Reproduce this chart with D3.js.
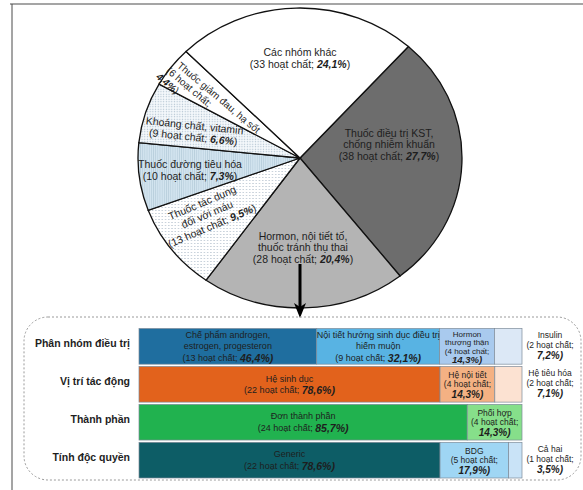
<!DOCTYPE html>
<html>
<head>
<meta charset="utf-8">
<script src="https://cdn.jsdelivr.net/npm/d3@7"></script>
<style>
  body { margin: 0; background: #fff; }
  text { font-family: "Liberation Sans", Arial, sans-serif; fill: #1e1e1e; }
</style>
</head>
<body>
<svg id="chart" width="583" height="490"></svg>
<script>
// nhóm tác dụng dược lý (pie)
var pieNames = [
    ['Thuốc điều trị KST,', 'chống nhiễm khuẩn'],
    ['Hormon, nội tiết tố,', 'thuốc tránh thụ thai'],
    ['Thuốc tác dụng', 'đối với máu'],
    ['Thuốc đường tiêu hóa'],
    ['Khoáng chất, vitamin'],
    ['Thuốc giảm đau, hạ sốt'],
    ['Các nhóm khác']
];
var pieCounts = [38, 28, 13, 10, 9, 6, 33];
var piePct = [27.7, 20.4, 9.5, 7.3, 6.6, 4.4, 24.1];

// nhóm hormon (bars)
var rowLabels = ['Phân nhóm điều trị', 'Vị trí tác động', 'Thành phần', 'Tính độc quyền'];
var row1Names = [['Chế phẩm androgen,', 'estrogen, progesteron'], ['Nội tiết hướng sinh dục điều trị', 'hiếm muộn'], ['Hormon', 'thượng thận'], ['Insulin']];
var row1Counts = [13, 9, 4, 2];
var row1Pct = [46.4, 32.1, 14.3, 7.2];
var row2Names = [['Hệ sinh dục'], ['Hệ nội tiết'], ['Hệ tiêu hóa']];
var row2Counts = [22, 4, 2];
var row2Pct = [78.6, 14.3, 7.1];
var row3Names = [['Đơn thành phần'], ['Phối hợp']];
var row3Counts = [24, 4];
var row3Pct = [85.7, 14.3];
var row4Names = [['Generic'], ['BDG'], ['Cả hai']];
var row4Counts = [22, 5, 1];
var row4Pct = [78.6, 17.9, 3.5];

var vn = d3.formatLocale({decimal: ',', thousands: '.', grouping: [3], currency: ['', '']});
var fmt = vn.format('.1f');

var svg = d3.select('#chart');
var defs = svg.append('defs');

// patterns
function dots(id, bg, dot, step, r) {
    var p = defs.append('pattern').attr('id', id).attr('patternUnits', 'userSpaceOnUse')
        .attr('width', step).attr('height', step);
    p.append('rect').attr('width', step).attr('height', step).attr('fill', bg);
    p.append('circle').attr('cx', step / 2).attr('cy', step / 2).attr('r', r).attr('fill', dot);
}
dots('pMau', '#ffffff', '#9fb0c0', 3, 0.55);
dots('pVit', '#f4f8fb', '#a9bccb', 2.5, 0.6);
var pl = defs.append('pattern').attr('id', 'pTieu').attr('patternUnits', 'userSpaceOnUse')
    .attr('width', 2).attr('height', 3);
pl.append('rect').attr('width', 2).attr('height', 3).attr('fill', '#d3e4ef');
pl.append('rect').attr('width', 0.7).attr('height', 3).attr('fill', '#b9cfdd');

var pieFills = ['#6d6d6d', '#b4b4b4', 'url(#pMau)', 'url(#pTieu)', 'url(#pVit)', '#ffffff', '#ffffff'];

// frame
svg.append('line').attr('x1', 10).attr('x2', 583).attr('y1', 4).attr('y2', 4)
    .attr('stroke', '#a5a5a5').attr('stroke-width', 2);
svg.append('line').attr('x1', 12).attr('x2', 12).attr('y1', 4).attr('y2', 490)
    .attr('stroke', '#4a4a4a').attr('stroke-width', 1);

// pie
var cx = 300, cy = 158, R = 150, sx = 1.08;
var pie = d3.pie().sort(null).value(function (d) { return d; })
    .startAngle(42 * Math.PI / 180).endAngle(42 * Math.PI / 180 + 2 * Math.PI);
var arc = d3.arc().innerRadius(0).outerRadius(R);

var pieG = svg.append('g').attr('transform', 'translate(' + [cx, cy] + ') scale(' + sx + ',1)');
pieG.selectAll('path')
    .data(pie(pieCounts))
    .enter()
    .append('path')
    .attr('d', arc)
    .attr('fill', function (d, i) { return pieFills[i]; })
    .attr('stroke', '#111')
    .attr('stroke-width', 1.3)
    .attr('vector-effect', 'non-scaling-stroke');

// text helper: lines = [[{t, b}]]
function addLines(g, lines, lh, anchor, fs, fsB) {
    var n = lines.length;
    lines.forEach(function (parts, k) {
        var t = g.append('text')
            .attr('text-anchor', anchor)
            .attr('dominant-baseline', 'central')
            .attr('y', (k - (n - 1) / 2) * lh)
            .attr('x', parts.dx || 0)
            .style('font-size', fs + 'px');
        parts.forEach(function (p) {
            var s = t.append('tspan').text(p.t);
            if (p.b) s.style('font-weight', 'bold').style('font-style', 'italic').style('font-size', fsB + 'px');
        });
    });
}

// pie label placement (page coords, rotation, line height, anchor)
var pieLabelPos = [
    {x: 389, y: 144, r: 0, lh: 11.5, a: 'middle', fs: 10.5},
    {x: 303, y: 247, r: 0, lh: 11.5, a: 'middle', fs: 10.5},
    {x: 207, y: 214, r: -23, lh: 12.5, a: 'middle', fs: 10.5},
    {x: 190, y: 170, r: 0, lh: 11.5, a: 'middle', fs: 10.5},
    {x: 194, y: 131, r: 6, lh: 11.5, a: 'middle', fs: 10.5},
    {x: 172, y: 72, r: 40, lh: 11, a: 'start', fs: 10},
    {x: 300, y: 58, r: 0, lh: 12, a: 'middle', fs: 10.5}
];

pieCounts.forEach(function (c, i) {
    var pos = pieLabelPos[i];
    var g = svg.append('g')
        .attr('transform', 'translate(' + [pos.x, pos.y] + ') rotate(' + pos.r + ')');
    var lines = pieNames[i].map(function (s) { return [{t: s}]; });
    if (i === 5) {
        lines.push([{t: '(' + c + ' hoạt chất;'}]);
        lines.push([{t: fmt(piePct[i]) + '%', b: true}, {t: ')'}]);
        lines[1].dx = -5;
        lines[2].dx = -9;
    } else {
        lines.push([{t: '(' + c + ' hoạt chất; '}, {t: fmt(piePct[i]) + '%', b: true}, {t: ')'}]);
    }
    addLines(g, lines, pos.lh, pos.a, pos.fs, pos.fs);
});

// arrow
svg.append('line').attr('x1', cx).attr('x2', cx).attr('y1', 264).attr('y2', 308)
    .attr('stroke', '#000').attr('stroke-width', 3);
svg.append('path').attr('d', 'M' + (cx - 6) + ',303 L' + cx + ',318 L' + (cx + 6) + ',303 L' + cx + ',307 Z')
    .attr('fill', '#000');

// dashed box
svg.append('rect').attr('x', 24).attr('y', 317).attr('width', 557).attr('height', 163)
    .attr('rx', 24).attr('ry', 24)
    .attr('fill', 'none').attr('stroke', '#9a9a9a').attr('stroke-width', 1)
    .attr('stroke-dasharray', '2,2');

// bars
var rows = [
    {names: row1Names, counts: row1Counts, pct: row1Pct, colors: ['#1f6e9f', '#58b3e3', '#a9caee', '#dce8f6']},
    {names: row2Names, counts: row2Counts, pct: row2Pct, colors: ['#e2621c', '#f4b183', '#fce2d2']},
    {names: row3Names, counts: row3Counts, pct: row3Pct, colors: ['#21b24f', '#86df8a']},
    {names: row4Names, counts: row4Counts, pct: row4Pct, colors: ['#0d5d66', '#9fd6f4', '#c9e3f7']}
];

var x = d3.scaleLinear().domain([0, 100]).range([139, 522]);
var y = d3.scaleBand().domain(rowLabels).range([328.5, 478]).paddingInner(0.06);

rows.forEach(function (row, r) {
    var rowG = svg.append('g')
        .attr('class', 'hormon row')
        .attr('transform', 'translate(0,' + y(rowLabels[r]) + ')');
    var bh = y.bandwidth();

    rowG.append('text')
        .attr('x', 130)
        .attr('y', bh / 2 - 3)
        .attr('text-anchor', 'end')
        .attr('dominant-baseline', 'central')
        .style('font-size', '10.5px')
        .style('font-weight', 'bold')
        .text(rowLabels[r]);

    var acc = 0;
    var segs = row.pct.map(function (p, i) {
        var s = {x0: acc, x1: acc + p, i: i};
        acc += p;
        return s;
    });

    rowG.selectAll('rect')
        .data(segs)
        .enter()
        .append('rect')
        .attr('x', function (d) { return x(d.x0); })
        .attr('width', function (d) { return x(d.x1) - x(d.x0); })
        .attr('y', 0)
        .attr('height', bh)
        .attr('fill', function (d) { return row.colors[d.i]; })
        .attr('stroke', '#7d8b99')
        .attr('stroke-width', 0.7);

    segs.forEach(function (d) {
        var w = x(d.x1) - x(d.x0);
        var name = row.names[d.i];
        var cnt = '(' + row.counts[d.i] + ' hoạt chất;';
        var pc = fmt(row.pct[d.i]) + '%)';
        var lines = name.map(function (s) { return [{t: s}]; });
        var g, fs, fsB, lh;
        if (w > 100) {
            lines.push([{t: cnt + ' '}, {t: pc, b: true}]);
            g = rowG.append('g').attr('transform', 'translate(' + [(x(d.x0) + x(d.x1)) / 2, bh / 2] + ')');
            fs = 9; fsB = 10.5; lh = 11.5;
        } else {
            lines.push([{t: cnt}]);
            lines.push([{t: pc, b: true}]);
            if (w > 40) {
                g = rowG.append('g').attr('transform', 'translate(' + [(x(d.x0) + x(d.x1)) / 2, bh / 2] + ')');
                fs = lines.length > 3 ? 8 : 8.5;
                fsB = lines.length > 3 ? 9.5 : 10;
                lh = lines.length > 3 ? 8.5 : 9.5;
            } else {
                g = rowG.append('g').attr('transform', 'translate(' + [550, bh / 2 - 1] + ')');
                fs = 8.5; fsB = 10; lh = 10;
            }
        }
        addLines(g, lines, lh, 'middle', fs, fsB);
    });
});
</script>
</body>
</html>
